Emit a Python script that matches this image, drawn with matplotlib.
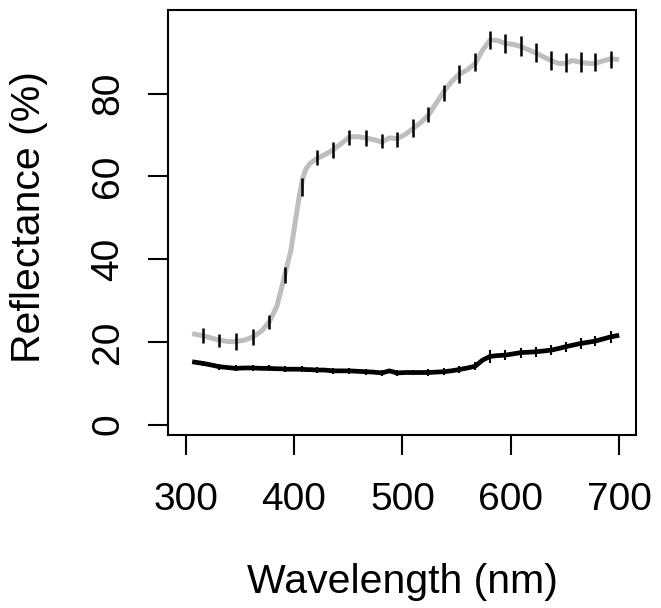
import matplotlib
matplotlib.use("Agg")
import matplotlib.pyplot as plt

plt.rcParams['font.family'] = ['Liberation Sans', 'DejaVu Sans']

# Continuous spectra (nm, %)
wavelength = [306, 316, 324, 331, 339, 346, 354, 362, 370, 377, 384, 388, 392, 397, 402,
              405, 408, 411, 415, 421, 428, 436, 443, 451, 458, 466, 473, 481, 488, 495,
              503, 510, 517, 524, 531, 538, 545, 552, 560, 567, 574, 581, 588, 595, 602,
              609, 616, 623, 630, 637, 644, 650, 657, 664, 671, 678, 685, 692, 700]
grey_refl = [22.0, 21.5, 20.9, 20.4, 20.1, 20.1, 20.4, 21.2, 22.6, 24.8, 28.5, 32.5, 36.8, 42.0, 50.5,
             55.5, 59.5, 61.8, 63.2, 64.3, 65.2, 66.4, 67.8, 69.5, 69.6, 69.3, 68.9, 68.3, 69.3, 69.1,
             70.2, 71.6, 73.0, 74.8, 77.6, 80.4, 82.8, 84.6, 85.8, 87.2, 90.5, 93.0, 92.8, 92.1, 91.9,
             91.4, 90.6, 89.8, 88.9, 88.0, 87.3, 87.3, 88.0, 87.6, 87.3, 87.3, 87.9, 88.4, 88.2]
black_refl = [15.2, 14.8, 14.4, 14.0, 13.8, 13.6, 13.7, 13.7, 13.6, 13.6, 13.5, 13.5, 13.4, 13.4, 13.4,
              13.4, 13.4, 13.3, 13.3, 13.2, 13.2, 13.0, 13.0, 13.0, 12.9, 12.8, 12.7, 12.5, 13.0, 12.5,
              12.6, 12.6, 12.6, 12.6, 12.7, 12.8, 13.0, 13.3, 13.7, 14.1, 15.6, 16.5, 16.7, 16.8, 17.1,
              17.4, 17.5, 17.6, 17.8, 18.0, 18.4, 18.8, 19.2, 19.6, 19.9, 20.2, 20.7, 21.2, 21.6]

# Error bars
bar_wavelength = [316, 331, 346, 362, 377, 391.5, 407, 421.5, 436, 451, 466, 481, 495, 510,
                  524, 538, 552.5, 567, 581, 595, 609, 623.5, 637, 650.5, 664.5, 678, 692]
grey_bar_mean = [21.5, 20.4, 20.1, 21.2, 24.8, 36.1, 57.4, 64.6, 66.4, 69.4, 69.3, 68.5, 69.0, 71.7,
                 74.9, 80.2, 84.7, 87.6, 93.0, 92.1, 91.5, 89.9, 88.0, 87.5, 87.6, 87.6, 88.2]
grey_bar_err = [1.8, 1.6, 2.0, 1.9, 1.7, 1.9, 2.1, 1.8, 2.0, 1.8, 2.0, 1.7, 1.8, 2.2,
                1.8, 1.9, 2.1, 2.1, 2.2, 2.2, 2.3, 2.3, 2.2, 2.2, 2.4, 2.2, 2.0]
black_bar_mean = [14.8, 14.0, 13.6, 13.7, 13.6, 13.4, 13.4, 13.2, 13.0, 13.0, 12.8, 12.5, 12.5, 12.6,
                  12.6, 12.8, 13.3, 14.1, 16.5, 16.8, 17.4, 17.6, 18.0, 18.8, 19.6, 20.2, 21.2]
black_bar_err = [0.7, 0.7, 0.7, 0.7, 0.7, 0.7, 0.7, 0.7, 0.7, 0.7, 0.7, 0.7, 0.7, 0.7,
                 0.8, 0.8, 0.9, 1.0, 1.5, 1.2, 1.2, 1.2, 1.2, 1.2, 1.3, 1.3, 1.4]

x_ticks = [300, 400, 500, 600, 700]
y_ticks = [0, 20, 40, 60, 80]

W, H = 661, 608
PX = 72 / 100  # points per pixel
fig = plt.figure(figsize=(W / 100, H / 100), dpi=100)
ax = fig.add_axes([168 / W, 1 - 435 / H, (636 - 168) / W, (435 - 10) / H])

ax.plot(wavelength, grey_refl, color='#BEBEBE', lw=3.6, solid_capstyle='butt', zorder=2)
ax.errorbar(bar_wavelength, grey_bar_mean, yerr=grey_bar_err, fmt='none', ecolor='black',
            elinewidth=1.8, capsize=0, zorder=3)
ax.plot(wavelength, black_refl, color='black', lw=3.4, solid_capstyle='butt', zorder=2)
ax.errorbar(bar_wavelength, black_bar_mean, yerr=black_bar_err, fmt='none', ecolor='black',
            elinewidth=1.5, capsize=0, zorder=3)

ax.set_xlim(283.7, 715.5)
ax.set_ylim(-2.5, 100.2)
ax.set_xticks(x_ticks)
ax.set_yticks(y_ticks)
ax.set_xticklabels([str(v) for v in x_ticks], va='baseline', ha='center')
ax.set_yticklabels([str(v) for v in y_ticks], rotation=90, rotation_mode='anchor',
                   va='baseline', ha='center')

for s in ax.spines.values():
    s.set_linewidth(1.5)
tick_len_px = 20
ax.tick_params(axis='both', direction='out', length=tick_len_px * PX, width=1.5,
               labelsize=28, color='black')
# baselines: x labels at y=510 px (tick end 455), y labels at x=118.3 px (tick end 148)
ax.tick_params(axis='x', pad=(510 - 455) * PX)
ax.tick_params(axis='y', pad=(148 - 118.3) * PX)

fig.text(402.5 / W, 1 - 593.3 / H, 'Wavelength (nm)', ha='center', va='baseline', fontsize=29.5)
fig.text(40 / W, 1 - 217.5 / H, 'Reflectance (%)', ha='center', va='baseline', rotation=90,
         rotation_mode='anchor', fontsize=29.5)

fig.savefig('out.png', dpi=100)
